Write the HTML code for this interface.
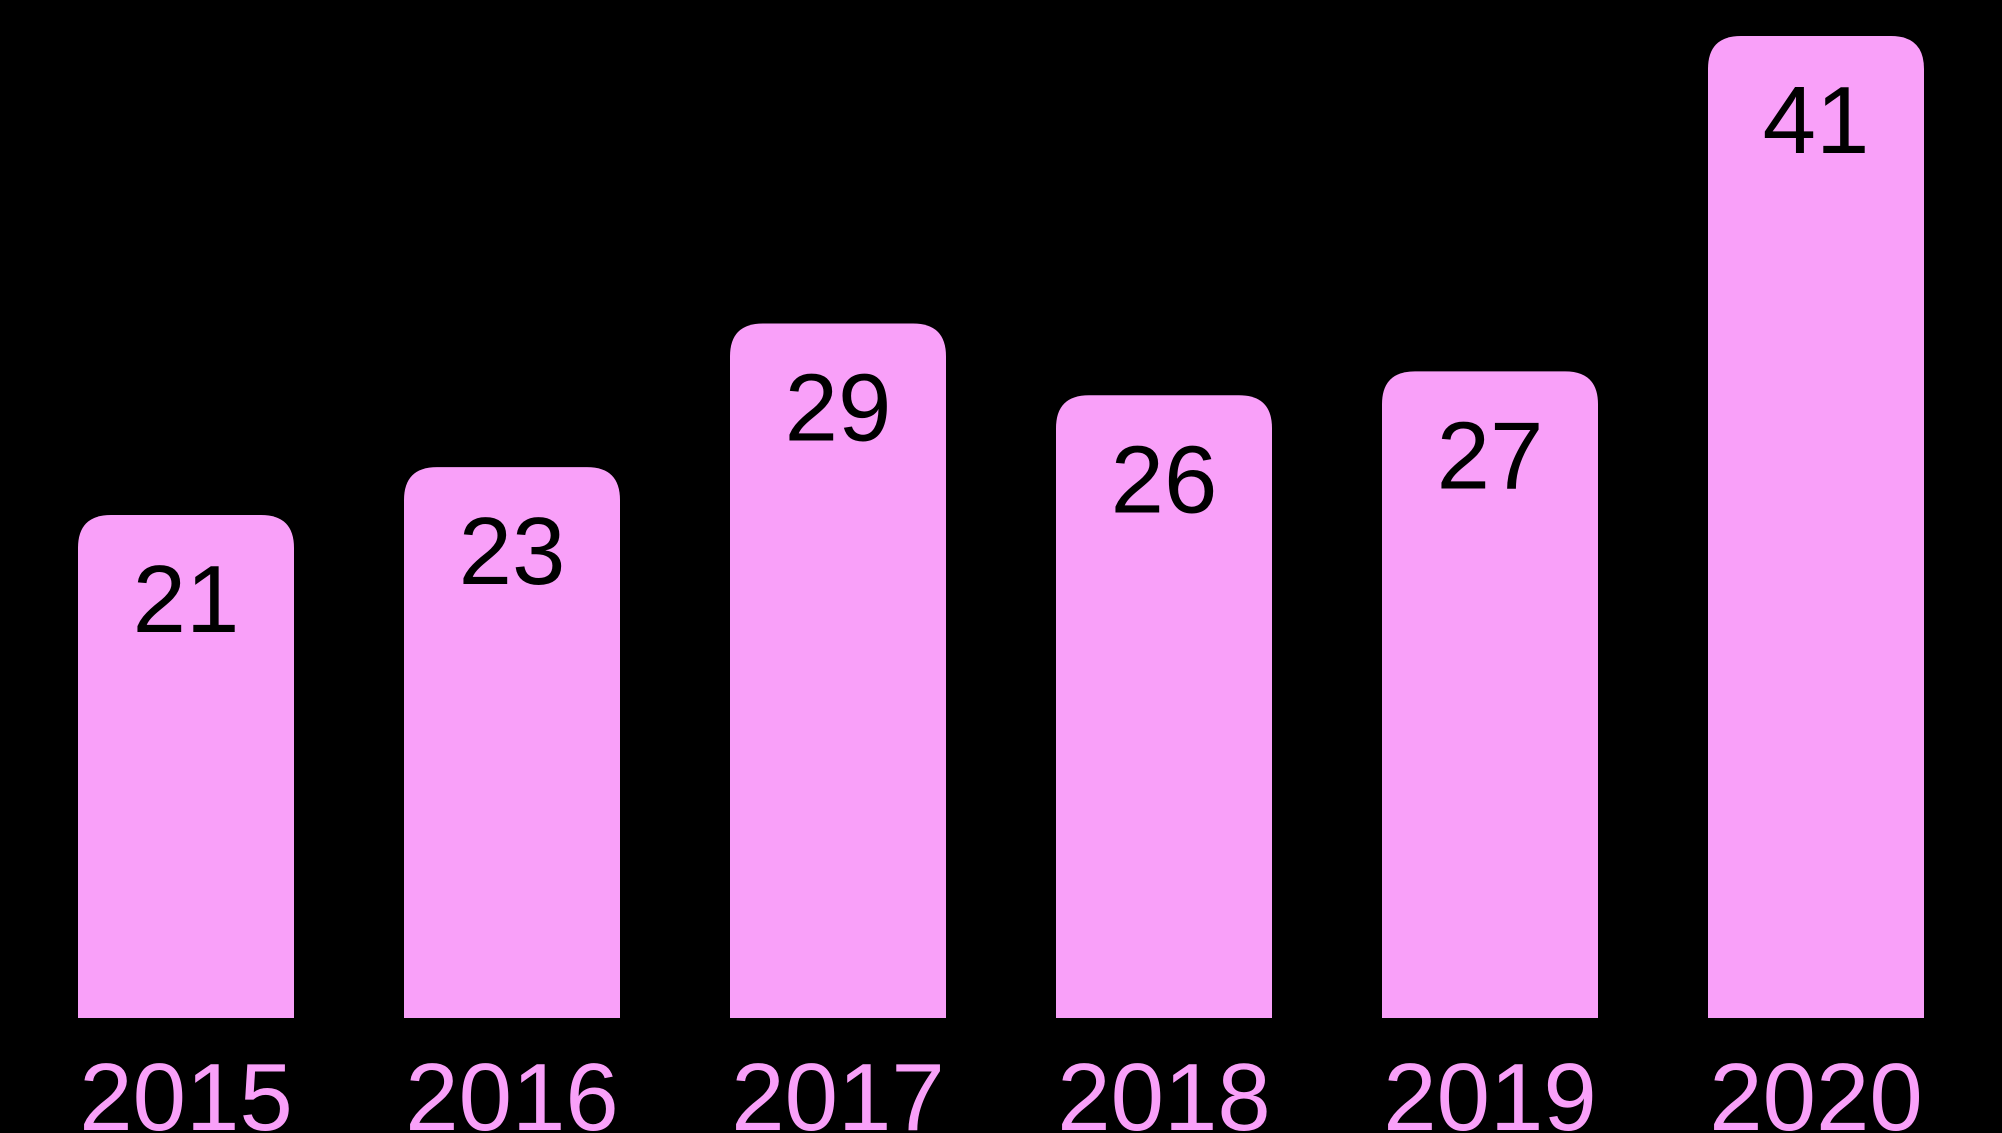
<!DOCTYPE html>
<html><head><meta charset="utf-8"><style>
html,body{margin:0;padding:0;background:#000;}
svg{display:block;}
text{font-family:"Liberation Sans",sans-serif;}
</style></head><body>
<svg id="chart" width="2002" height="1133" viewBox="0 0 2002 1133" xmlns="http://www.w3.org/2000/svg">
<rect width="2002" height="1133" fill="#000"/>
<g id="bars"></g>
</svg>
<script>
const categories = ["2015","2016","2017","2018","2019","2020"];
const values = [21,23,29,26,27,41];
const valueLabels = ["21","23","29","26","27","41"];

const baseY = 1018, unit = 23.95, x0 = 78, step = 326, barW = 216, r = 33;
const NS = "http://www.w3.org/2000/svg";
const g = document.getElementById('bars');
function xScale(i){ return x0 + i*step; }
function yScale(v){ return baseY - v*unit; }
categories.forEach((c,i)=>{
  const x = xScale(i), y = yScale(values[i]);
  const p = document.createElementNS(NS,'path');
  p.setAttribute('d',`M${x},${baseY} V${y+r} Q${x},${y} ${x+r},${y} H${x+barW-r} Q${x+barW},${y} ${x+barW},${y+r} V${baseY} Z`);
  p.setAttribute('fill','#f9a0f9');
  
  
  g.appendChild(p);
  const t = document.createElementNS(NS,'text');
  t.setAttribute('x', x+barW/2);
  t.setAttribute('y', y+117);
  t.setAttribute('text-anchor','middle');
  t.setAttribute('font-size','96');
  t.setAttribute('fill','#000');
  t.textContent = valueLabels[i];
  
  
  g.appendChild(t);
  const l = document.createElementNS(NS,'text');
  l.setAttribute('x', x+barW/2);
  l.setAttribute('y', 1130);
  l.setAttribute('text-anchor','middle');
  l.setAttribute('font-size','96');
  l.setAttribute('fill','#f9a0f9');
  l.textContent = c;
  
  
  g.appendChild(l);
});
</script>
</body></html>
